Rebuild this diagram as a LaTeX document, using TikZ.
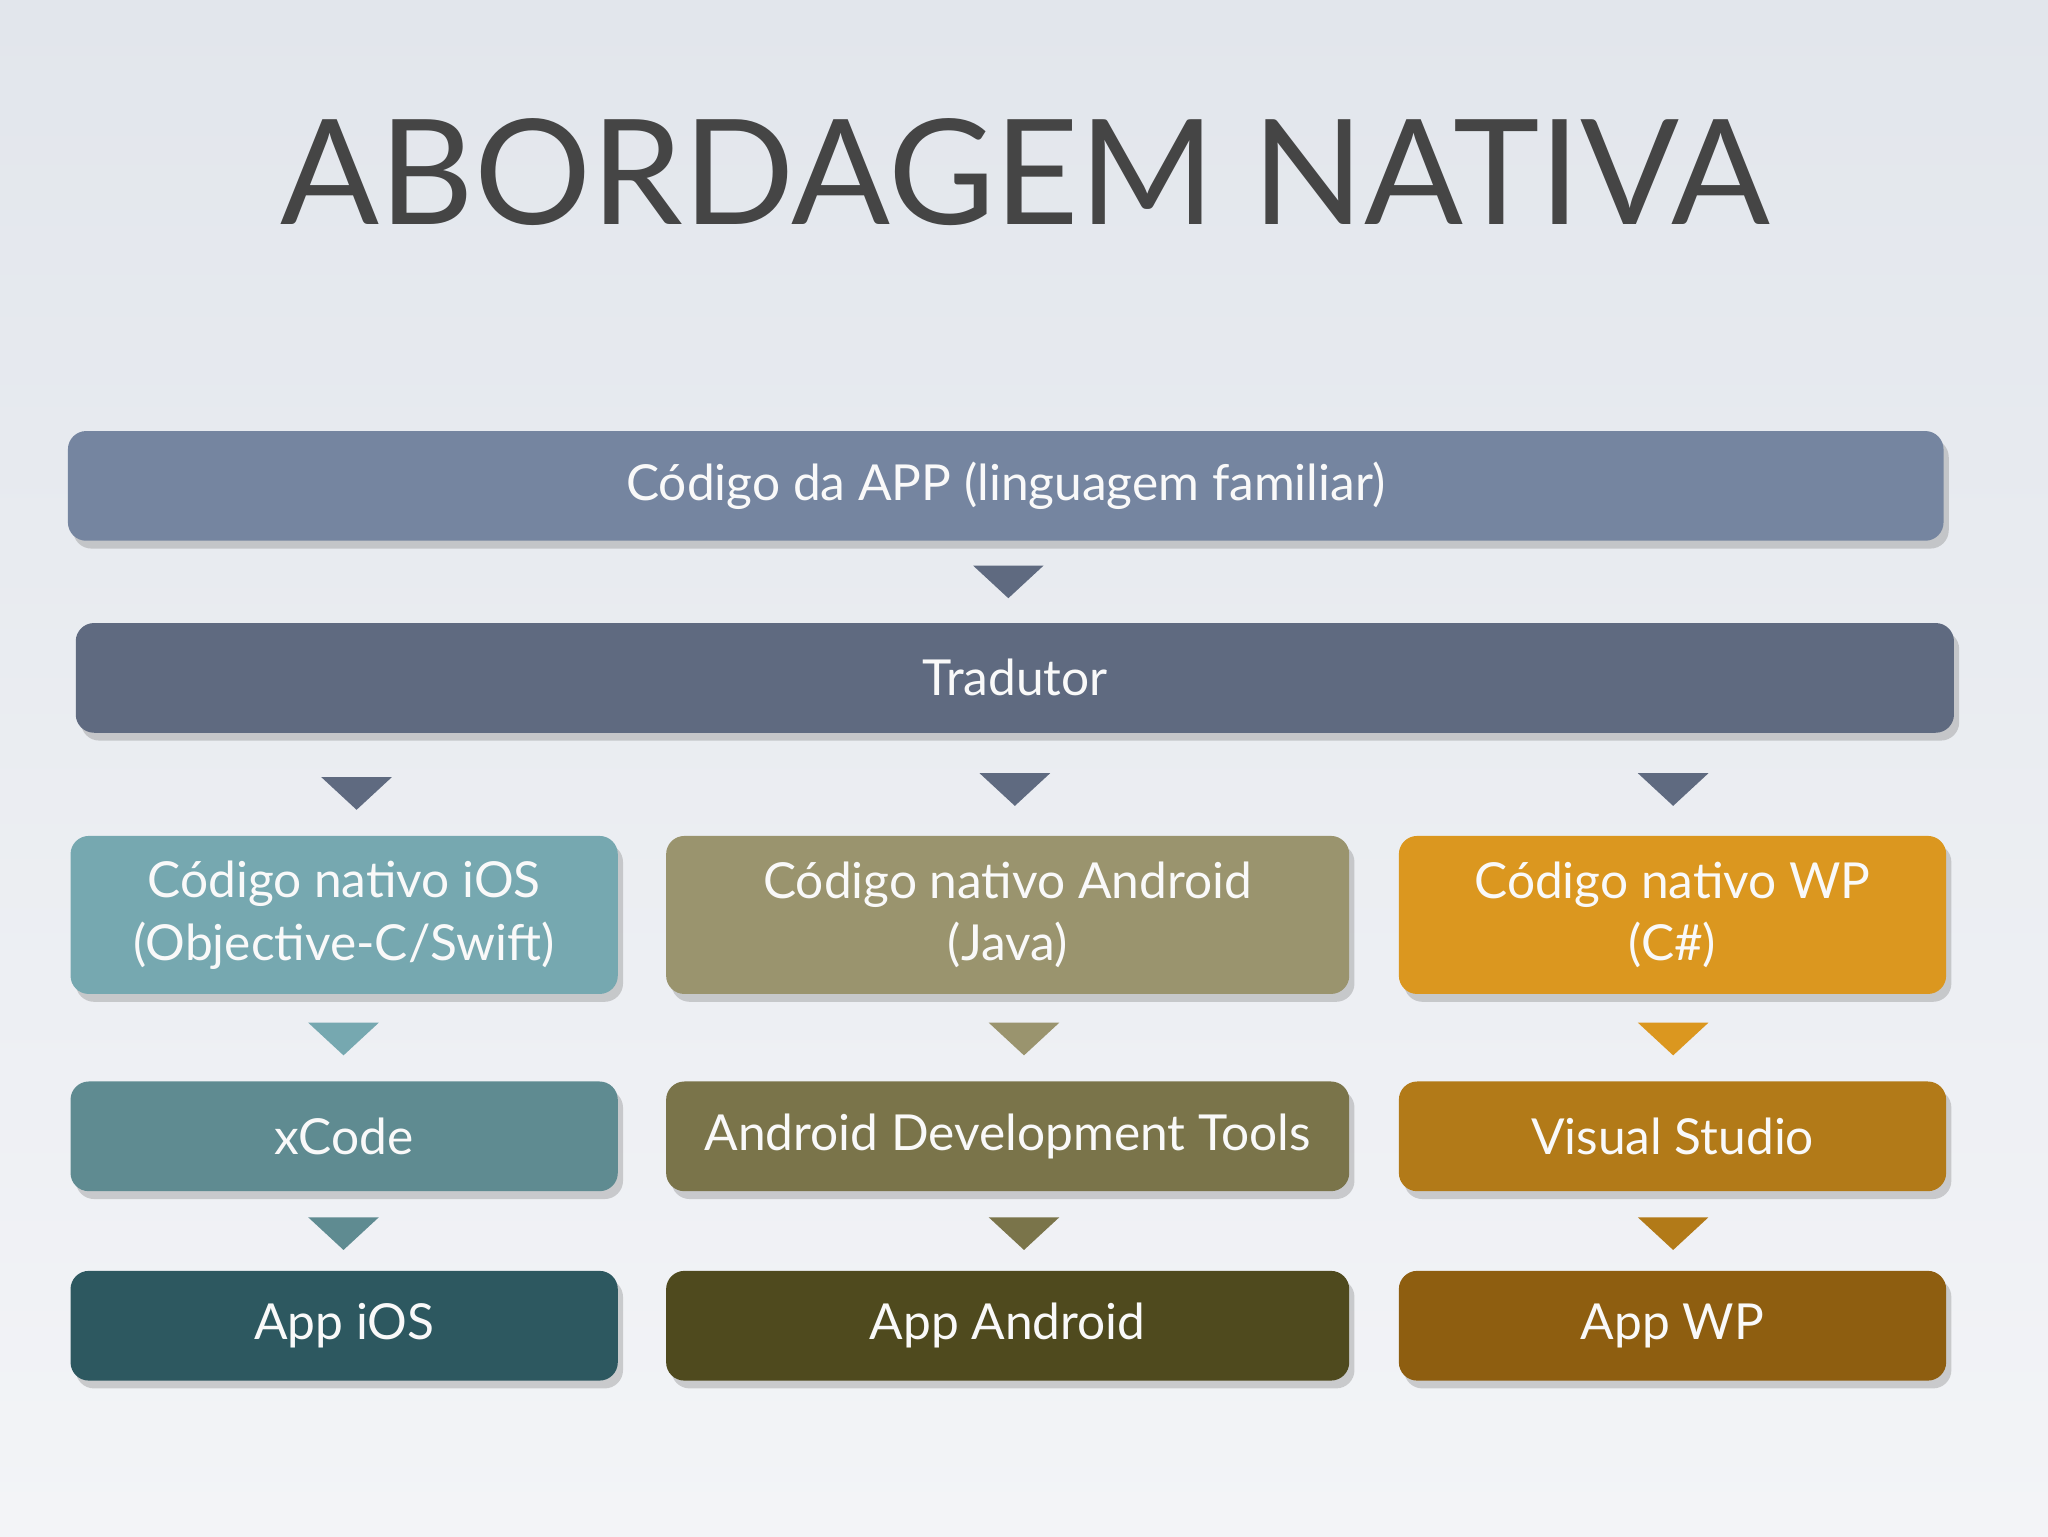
\documentclass[tikz,border=0pt]{standalone}
\usepackage{fontspec}
\setmainfont{Lato}
\usetikzlibrary{shadows}
\definecolor{bgA}{HTML}{E2E6EC}\definecolor{bgB}{HTML}{F3F4F7}
\definecolor{cTop}{HTML}{7585A0}\definecolor{cTr}{HTML}{5F6A80}
\definecolor{iA}{HTML}{76A8B0}\definecolor{iB}{HTML}{5F8B91}\definecolor{iC}{HTML}{2D5860}
\definecolor{aA}{HTML}{9A946E}\definecolor{aB}{HTML}{7A744A}\definecolor{aC}{HTML}{4F4A1E}
\definecolor{wA}{HTML}{DB971F}\definecolor{wB}{HTML}{B27A18}\definecolor{wC}{HTML}{8E5E10}
\definecolor{title}{HTML}{454545}
\tikzset{
 bx/.style={rounded corners=14pt,inner sep=0pt,align=center,text=white!95!gray,
   font=\fontsize{38}{48}\selectfont,drop shadow={shadow xshift=4pt,shadow yshift=-6pt,opacity=0.35}},
 tri/.style={fill=#1}
}
\newcommand{\bxat}[7]{\node[bx,fill=#6,minimum width=#3-#2,minimum height=#5-#4] (#1) at ({(#2+#3)/2},{-(#4+#5)/2}) {#7};}
\newcommand{\triat}[4]{\fill[#4] (#1-27,-#2) -- (#1+27,-#2) -- (#1,-#3) -- cycle;}
\begin{document}
\begin{tikzpicture}[x=1pt,y=1pt]
\shade[top color=bgA,bottom color=bgB] (0,0) rectangle (1568,-1176);
\useasboundingbox (0,0) rectangle (1568,-1176);
\node[text=title,font=\fontsize{112}{112}\selectfont] (t) at (785,-132) {ABORDAGEM NATIVA};
\bxat{top}{52}{1488}{330}{414}{cTop}{Código da APP (linguagem familiar)}
\bxat{tr}{58}{1496}{477}{561}{cTr}{Tradutor}
\triat{772}{433}{458}{cTr}
\triat{273}{595}{620}{cTr}\triat{777}{592}{617}{cTr}\triat{1281}{592}{617}{cTr}
\bxat{i1}{54}{473}{640}{761}{iA}{Código nativo iOS\\(Objective-C/Swift)}
\bxat{a1}{510}{1033}{640}{761}{aA}{Código nativo Android\\(Java)}
\bxat{w1}{1071}{1490}{640}{761}{wA}{Código nativo WP\\(C\#)}
\triat{263}{783}{808}{iA}\triat{784}{783}{808}{aA}\triat{1281}{783}{808}{wA}
\bxat{i2}{54}{473}{828}{912}{iB}{xCode}
\bxat{a2}{510}{1033}{828}{912}{aB}{Android Development Tools}
\bxat{w2}{1071}{1490}{828}{912}{wB}{Visual Studio}
\triat{263}{932}{957}{iB}\triat{784}{932}{957}{aB}\triat{1281}{932}{957}{wB}
\bxat{i3}{54}{473}{973}{1057}{iC}{App iOS}
\bxat{a3}{510}{1033}{973}{1057}{aC}{App Android}
\bxat{w3}{1071}{1490}{973}{1057}{wC}{App WP}
\end{tikzpicture}
\end{document}
